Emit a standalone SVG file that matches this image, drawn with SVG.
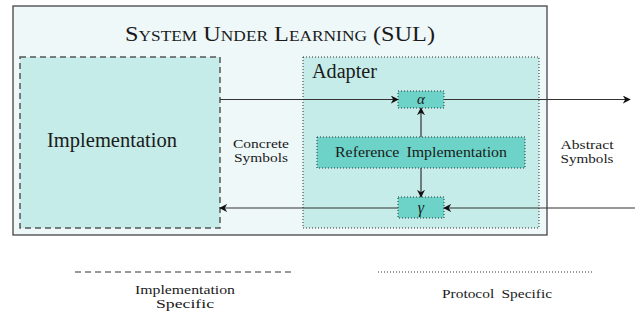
<svg xmlns="http://www.w3.org/2000/svg" width="635" height="320" viewBox="0 0 635 320" font-family="'Liberation Serif', 'Times New Roman', serif">
<style>
text{fill:#1a1a1a}
.dotted{stroke:#333;stroke-width:1;stroke-dasharray:1 2}
.dashed{stroke:#555;stroke-width:1.5;stroke-dasharray:6 4}
.conn{stroke:#333;stroke-width:1.2;fill:none}
.teal{fill:#6dd3c8}
.light{fill:#c5ece8}
</style>
<defs>
<marker id="ah" viewBox="0 0 10 10" refX="9" refY="5" markerWidth="8" markerHeight="8" markerUnits="userSpaceOnUse" orient="auto">
<path d="M0,0 L10,5 L0,10 L3,5 Z" fill="#111"/>
</marker>
</defs>
<g id="sul">
<rect x="13" y="6" width="534" height="229" fill="#eef8f9" stroke="#444" stroke-width="1.3"/>
<text x="280" y="41" font-size="21" text-anchor="middle" font-variant="small-caps" font-family="Liberation Serif" textLength="310" lengthAdjust="spacingAndGlyphs">System Under Learning (SUL)</text>
</g>
<g id="implementation">
<rect x="20" y="57" width="200" height="171" class="light dashed"/>
<text x="112" y="147" font-size="20" text-anchor="middle" font-family="Liberation Serif" textLength="130" lengthAdjust="spacingAndGlyphs">Implementation</text>
</g>
<g id="adapter">
<rect x="303" y="57" width="236" height="171" class="light dotted"/>
<text x="312" y="78" font-size="20" font-family="Liberation Serif" textLength="65" lengthAdjust="spacingAndGlyphs">Adapter</text>
</g>
<g id="alpha">
<rect x="398" y="91" width="46" height="17" class="teal dotted"/>
<text x="421" y="104" font-size="15" font-style="italic" text-anchor="middle" font-family="Liberation Serif">α</text>
</g>
<g id="reference">
<rect x="317" y="137" width="208" height="31" class="teal dotted"/>
<text x="421" y="157" font-size="15" text-anchor="middle" font-family="Liberation Serif" textLength="172" lengthAdjust="spacingAndGlyphs" word-spacing="3">Reference Implementation</text>
</g>
<g id="gamma">
<rect x="398" y="197" width="46" height="21" class="teal dotted"/>
<text x="421" y="213" font-size="16" font-style="italic" text-anchor="middle" font-family="Liberation Serif">γ</text>
</g>
<g id="labels" font-family="Liberation Serif" font-size="13" text-anchor="middle">
<text x="261" y="148" textLength="56" lengthAdjust="spacingAndGlyphs">Concrete</text>
<text x="261" y="162" textLength="54" lengthAdjust="spacingAndGlyphs">Symbols</text>
<text x="587" y="149" textLength="53" lengthAdjust="spacingAndGlyphs">Abstract</text>
<text x="587" y="163" textLength="53" lengthAdjust="spacingAndGlyphs">Symbols</text>
</g>
<g id="connectors">
<line x1="220" y1="99.5" x2="398" y2="99.5" class="conn" marker-end="url(#ah)"/>
<line x1="444" y1="99.5" x2="630" y2="99.5" class="conn" marker-end="url(#ah)"/>
<line x1="635" y1="208" x2="444" y2="208" class="conn" marker-end="url(#ah)"/>
<line x1="398" y1="208" x2="220" y2="208" class="conn" marker-end="url(#ah)"/>
<line x1="421" y1="137" x2="421" y2="108" class="conn" marker-end="url(#ah)"/>
<line x1="421" y1="168" x2="421" y2="197" class="conn" marker-end="url(#ah)"/>
</g>
<g id="legend" font-family="Liberation Serif" font-size="13" text-anchor="middle">
<line x1="75" y1="272" x2="295" y2="272" stroke="#333" stroke-width="1.2" stroke-dasharray="6 4"/>
<text x="185" y="294" textLength="100" lengthAdjust="spacingAndGlyphs">Implementation</text>
<text x="185" y="308" textLength="58" lengthAdjust="spacingAndGlyphs">Specific</text>
<line x1="378" y1="272" x2="593" y2="272" stroke="#333" stroke-width="1" stroke-dasharray="1 2"/>
<text x="497" y="298" word-spacing="3" textLength="110" lengthAdjust="spacingAndGlyphs">Protocol Specific</text>
</g>
</svg>
